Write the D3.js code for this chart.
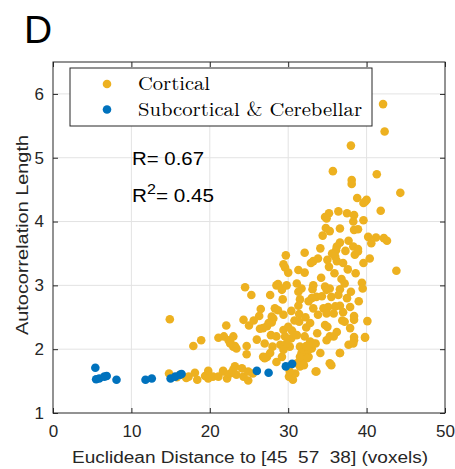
<!DOCTYPE html>
<html>
<head>
<meta charset="utf-8">
<script src="https://cdn.jsdelivr.net/npm/d3@7"></script>
<style>
  body { margin: 0; background: #fff; }
</style>
</head>
<body>
<div id="chart"></div>
<script>
// subcortical & cerebellar regions: [distance, autocorrelation length]
const subcortical = [
  [5.4, 1.71], [5.5, 1.53], [5.9, 1.54], [6.55, 1.57], [6.85, 1.58], [8.1, 1.52],
  [11.8, 1.52], [12.6, 1.54], [15.0, 1.54], [15.6, 1.57], [16.2, 1.6], [16.4, 1.61],
  [26.0, 1.66], [27.5, 1.63], [29.7, 1.73], [30.5, 1.77]
];

// cortical regions
const cortical = [
  [42.1, 5.84], [42.3, 5.41], [38.0, 5.19], [35.7, 4.79], [41.3, 4.74], [38.1, 4.65], [38.1, 4.59],
  [44.3, 4.45], [38.8, 4.37], [40.0, 4.34], [39.6, 4.29], [39.8, 4.31], [41.8, 4.17], [35.2, 4.13],
  [36.4, 4.16], [37.5, 4.13], [38.4, 4.10], [34.7, 4.07], [39.6, 4.02], [34.9, 4.05], [38.3, 4.0],
  [34.8, 3.9], [36.6, 3.89], [35.3, 3.85], [38.4, 3.87], [38.9, 3.88], [34.4, 3.78], [40.2, 3.76],
  [41.2, 3.75], [42.2, 3.74], [42.6, 3.70], [40.6, 3.66], [36.6, 3.67], [37.7, 3.70], [36.2, 3.61],
  [38.3, 3.61], [38.9, 3.57], [36.1, 3.55], [37.3, 3.54], [34.1, 3.58], [32.1, 3.51], [29.7, 3.47],
  [38.5, 3.48], [40.4, 3.42], [33.8, 3.42], [33.2, 3.38], [32.9, 3.35], [36.2, 3.38], [37.0, 3.35],
  [39.6, 3.35], [29.4, 3.33], [29.6, 3.28], [35.2, 3.29], [43.8, 3.23], [31.3, 3.24], [32.1, 3.2],
  [30.0, 3.2], [35.9, 3.19], [38.6, 3.19], [35.0, 3.40], [36.0, 3.45], [38.9, 3.53], [35.6, 3.50],
  [28.7, 3.02], [29.2, 2.95], [29.8, 3.0], [31.1, 3.03], [31.7, 2.95], [33.2, 3.0], [33.1, 2.94],
  [34.7, 2.98], [35.3, 2.95], [34.9, 2.93], [37.2, 3.03], [36.6, 2.94], [39.4, 3.04], [39.5, 2.95],
  [38.0, 2.9], [24.5, 2.97], [25.3, 2.85], [27.7, 2.85], [29.3, 2.78], [31.3, 2.9], [31.5, 2.78],
  [33.6, 2.82], [34.3, 2.83], [35.5, 2.82], [37.5, 2.8], [37.9, 2.66], [36.6, 2.68], [36.0, 2.67],
  [35.1, 2.66], [34.5, 2.64], [33.2, 2.64], [33.8, 2.54], [34.9, 2.56], [35.8, 2.56], [31.3, 2.68],
  [31.4, 2.55], [26.5, 2.63], [26.3, 2.52], [28.3, 2.64], [29.4, 2.54], [28.1, 2.48], [24.3, 2.46],
  [25.0, 2.37], [26.4, 2.32], [27.3, 2.36], [27.9, 2.42], [29.4, 2.3], [30.5, 2.29], [31.4, 2.43],
  [32.3, 2.34], [32.8, 2.41], [33.7, 2.25], [34.7, 2.38], [35.3, 2.2], [36.2, 2.27], [37.2, 2.43],
  [37.9, 2.33], [38.4, 2.52], [38.4, 2.46], [40.1, 2.44], [38.4, 2.19], [38.4, 2.14], [39.8, 2.18],
  [27.8, 2.22], [28.5, 2.2], [29.6, 2.2], [30.4, 2.17], [31.1, 2.22], [32.1, 2.2], [32.8, 2.12],
  [33.5, 2.09], [34.9, 2.14], [35.8, 2.2], [36.6, 1.94], [37.7, 2.07], [27.0, 2.09], [28.0, 2.04],
  [29.0, 2.07], [30.2, 2.04], [31.5, 2.04], [31.7, 1.94], [34.1, 1.94], [33.0, 2.01], [23.0, 2.04],
  [22.6, 2.12], [24.7, 2.05], [24.7, 1.92], [27.3, 1.88], [29.2, 1.88], [32.6, 1.88],
  [14.9, 2.47], [17.9, 2.05], [18.9, 2.14], [21.1, 2.18], [21.8, 2.2], [22.1, 2.37], [22.4, 2.14],
  [23.2, 2.05], [28.5, 3.0], [29.2, 2.93], [28.7, 2.61], [27.9, 2.51], [27.5, 2.41], [26.8, 2.33],
  [14.8, 1.62], [17.3, 1.57], [18.1, 1.63], [18.4, 1.52], [19.4, 1.58], [19.8, 1.66], [19.8, 1.54],
  [20.4, 1.57], [21.1, 1.57], [21.7, 1.66], [22.2, 1.54], [22.6, 1.62], [23.2, 1.73], [23.4, 1.6],
  [24.1, 1.7], [24.3, 1.57], [24.9, 1.65], [24.9, 1.51], [25.5, 1.62], [22.6, 2.09], [23.4, 2.01],
  [26.8, 1.88], [28.5, 1.8], [30.1, 1.57], [30.6, 1.52], [30.9, 1.62], [31.5, 1.73], [31.7, 1.83],
  [31.9, 1.94], [32.4, 1.86], [32.6, 1.99], [33.2, 2.09], [33.5, 1.65], [35.3, 1.78], [36.6, 1.94],
  [38.3, 2.09], [39.8, 2.19], [29.4, 1.99], [29.8, 2.09], [23.0, 1.68], [27.0, 1.86], [27.7, 1.94],
  [30.2, 1.65], [31.1, 1.78], [31.5, 1.88], [33.6, 1.65], [35.5, 1.75], [23.0, 2.2], [21.7, 1.65],
  [16.2, 1.6], [15.8, 1.56], [17.0, 1.55], [32.2, 2.5], [32.6, 2.75], [30.4, 2.6], [30.8, 2.45],
  [32.0, 1.75], [32.3, 2.05], [36.8, 3.1], [37.6, 3.25], [34.2, 3.12], [36.9, 2.45], [35.0, 2.35],
  [26.0, 2.15], [25.6, 2.45], [30.0, 2.35], [33.0, 2.8], [36.4, 2.85], [37.0, 2.58], [39.0, 2.75]
];

const xTicks = [0, 10, 20, 30, 40, 50];
const yTicks = [1, 2, 3, 4, 5, 6];
const legendLabels = ['Cortical', 'Subcortical & Cerebellar'];
const statLines = ['0.67', '0.45'];

const width = 455, height = 469;
const margin = { left: 53, right: 10, top: 62, bottom: 56 };
const plotW = width - margin.left - margin.right;
const plotH = height - margin.top - margin.bottom;
const orange = '#EDB120', blue = '#0072BD', axisColor = '#262626';
const sans = 'Helvetica, Arial, "Liberation Sans", sans-serif';

const svg = d3.select('#chart').append('svg')
  .attr('width', width)
  .attr('height', height)
  .style('font-family', sans);

const x = d3.scaleLinear().domain([0, 50]).range([0, plotW]);
const y = d3.scaleLinear().domain([1, 6.5]).range([plotH, 0]);

const g = svg.append('g')
  .attr('transform', `translate(${margin.left},${margin.top})`);

// grid
g.append('g').selectAll('line')
  .data(xTicks.slice(1, -1))
  .enter().append('line')
    .attr('x1', d => x(d)).attr('x2', d => x(d))
    .attr('y1', 0).attr('y2', plotH)
    .attr('stroke', '#e3e3e3');
g.append('g').selectAll('line')
  .data(yTicks.slice(1))
  .enter().append('line')
    .attr('x1', 0).attr('x2', plotW)
    .attr('y1', d => y(d)).attr('y2', d => y(d))
    .attr('stroke', '#e3e3e3');

// axes, ticks pointing inward
const styleAxis = sel => {
  sel.select('.domain').remove();
  sel.selectAll('line').attr('stroke', axisColor);
  sel.selectAll('text').attr('fill', axisColor).attr('font-size', 17)
    .attr('font-family', sans);
};
g.append('g').attr('transform', `translate(0,${plotH})`)
  .call(d3.axisBottom(x).tickValues(xTicks).tickSizeInner(-5).tickPadding(12))
  .call(styleAxis);
g.append('g')
  .call(d3.axisTop(x).tickValues(xTicks).tickSizeInner(-5).tickFormat(''))
  .call(styleAxis);
g.append('g')
  .call(d3.axisLeft(y).tickValues(yTicks).tickSizeInner(-5).tickPadding(9).tickFormat(d3.format('d')))
  .call(styleAxis);
g.append('g').attr('transform', `translate(${plotW},0)`)
  .call(d3.axisRight(y).tickValues(yTicks).tickSizeInner(-5).tickFormat(''))
  .call(styleAxis);

g.append('rect')
  .attr('width', plotW).attr('height', plotH)
  .attr('fill', 'none').attr('stroke', axisColor).attr('stroke-width', 1);

// points
g.append('g').selectAll('circle')
  .data(cortical)
  .enter().append('circle')
    .attr('cx', d => x(d[0]))
    .attr('cy', d => y(d[1]))
    .attr('r', 4.3)
    .attr('fill', orange);
g.append('g').selectAll('circle')
  .data(subcortical)
  .enter().append('circle')
    .attr('cx', d => x(d[0]))
    .attr('cy', d => y(d[1]))
    .attr('r', 4.3)
    .attr('fill', blue);

// legend
const legend = svg.append('g').attr('transform', 'translate(70,68)');
legend.append('rect')
  .attr('width', 302).attr('height', 58)
  .attr('fill', '#fff').attr('stroke', axisColor).attr('stroke-width', 1);
const legendWidths = [72, 224];
legendLabels.forEach((label, i) => {
  legend.append('circle')
    .attr('cx', 37).attr('cy', 16 + i * 25.5)
    .attr('r', 4.3)
    .attr('fill', i === 0 ? orange : blue);
  legend.append('text')
    .attr('x', 68).attr('y', 22 + i * 25.5)
    .style('font-family', '"Latin Modern Roman", "CMU Serif", "Liberation Serif", "DejaVu Serif", serif')
    .attr('font-size', 19)
    .attr('textLength', legendWidths[i])
    .attr('lengthAdjust', 'spacingAndGlyphs')
    .attr('fill', '#000')
    .text(label);
});

// R / R^2 annotation
svg.append('text')
  .attr('x', 132).attr('y', 165)
  .attr('font-size', 18).attr('fill', '#000')
  .attr('textLength', 72).attr('lengthAdjust', 'spacingAndGlyphs')
  .text('R= ' + statLines[0]);
const r2 = svg.append('text')
  .attr('x', 132).attr('y', 202)
  .attr('font-size', 18).attr('fill', '#000')
  .attr('textLength', 82).attr('lengthAdjust', 'spacingAndGlyphs');
r2.append('tspan').text('R');
r2.append('tspan').attr('dy', -8).attr('font-size', 14).text('2');
r2.append('tspan').attr('dy', 8).text('= ' + statLines[1]);

// axis labels
svg.append('text')
  .attr('x', 72).attr('y', 463)
  .attr('font-size', 16).attr('fill', axisColor)
  .attr('textLength', 356).attr('lengthAdjust', 'spacingAndGlyphs')
  .style('white-space', 'pre')
  .text('Euclidean Distance to [45  57  38] (voxels)');
svg.append('text')
  .attr('transform', `translate(28,235) rotate(-90)`)
  .attr('text-anchor', 'middle')
  .attr('font-size', 17).attr('fill', axisColor)
  .attr('textLength', 200).attr('lengthAdjust', 'spacingAndGlyphs')
  .text('Autocorrelation Length');

// panel letter
svg.append('text')
  .attr('x', 24).attr('y', 43)
  .attr('font-size', 39).attr('fill', '#000')
  .text('D');
</script>
</body>
</html>
